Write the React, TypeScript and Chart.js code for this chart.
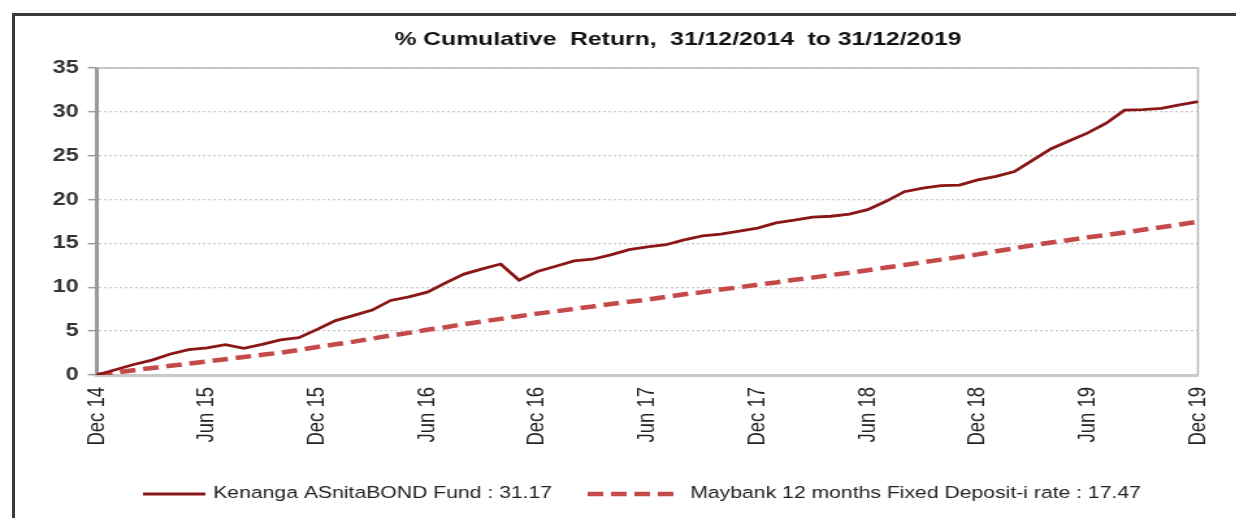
import React, { useEffect, useRef } from 'react';
import { Chart, registerables } from 'chart.js';

Chart.register(...registerables);

const TITLE = '% Cumulative  Return,  31/12/2014  to 31/12/2019';

const months = [
  'Dec 14',
  'Jan 15', 'Feb 15', 'Mar 15', 'Apr 15', 'May 15', 'Jun 15', 'Jul 15', 'Aug 15', 'Sep 15', 'Oct 15', 'Nov 15', 'Dec 15',
  'Jan 16', 'Feb 16', 'Mar 16', 'Apr 16', 'May 16', 'Jun 16', 'Jul 16', 'Aug 16', 'Sep 16', 'Oct 16', 'Nov 16', 'Dec 16',
  'Jan 17', 'Feb 17', 'Mar 17', 'Apr 17', 'May 17', 'Jun 17', 'Jul 17', 'Aug 17', 'Sep 17', 'Oct 17', 'Nov 17', 'Dec 17',
  'Jan 18', 'Feb 18', 'Mar 18', 'Apr 18', 'May 18', 'Jun 18', 'Jul 18', 'Aug 18', 'Sep 18', 'Oct 18', 'Nov 18', 'Dec 18',
  'Jan 19', 'Feb 19', 'Mar 19', 'Apr 19', 'May 19', 'Jun 19', 'Jul 19', 'Aug 19', 'Sep 19', 'Oct 19', 'Nov 19', 'Dec 19',
];

const kenanga = [
  0,
  0.6, 1.2, 1.7, 2.4, 2.9, 3.1, 3.45, 3.05, 3.5, 4.0, 4.25, 5.2,
  6.2, 6.8, 7.4, 8.5, 8.9, 9.45, 10.5, 11.5, 12.1, 12.65, 10.8, 11.8,
  12.4, 13.0, 13.2, 13.7, 14.3, 14.6, 14.85, 15.4, 15.85, 16.05, 16.4, 16.75,
  17.35, 17.65, 18.0, 18.1, 18.35, 18.85, 19.8, 20.9, 21.3, 21.6, 21.65, 22.25,
  22.65, 23.2, 24.5, 25.8, 26.7, 27.6, 28.7, 30.2, 30.25, 30.4, 30.8, 31.17,
];

const maybank = [
  0,
  0.27, 0.55, 0.8, 1.05, 1.3, 1.55, 1.8, 2.05, 2.3, 2.55, 2.85, 3.2,
  3.5, 3.8, 4.15, 4.5, 4.8, 5.15, 5.45, 5.8, 6.1, 6.4, 6.7, 7.0,
  7.25, 7.55, 7.8, 8.1, 8.35, 8.6, 8.9, 9.2, 9.45, 9.75, 10.0, 10.3,
  10.55, 10.85, 11.1, 11.4, 11.65, 11.95, 12.25, 12.55, 12.85, 13.15, 13.45, 13.75,
  14.1, 14.45, 14.8, 15.1, 15.4, 15.7, 15.95, 16.25, 16.55, 16.85, 17.15, 17.47,
];

const seriesNames = [
  'Kenanga ASnitaBOND Fund : 31.17',
  'Maybank 12 months Fixed Deposit-i rate : 17.47',
];

const FONT = 'Arial, "Liberation Sans", sans-serif';
const STRETCH = 1.3;
const CW = Math.round(1236 / STRETCH);
const CH = 518;

const titlePlugin = {
  id: 'customTitle',
  afterDraw(chart: any) {
    const ctx = chart.ctx;
    ctx.save();
    ctx.font = `bold 19px ${FONT}`;
    ctx.fillStyle = '#111';
    ctx.textAlign = 'center';
    ctx.textBaseline = 'middle';
    ctx.fillText(TITLE, 521.5, 40);
    ctx.restore();
  },
};

const framePlugin = {
  id: 'plotFrame',
  beforeDatasetsDraw(chart: any) {
    const { ctx, chartArea } = chart;
    ctx.save();
    ctx.strokeStyle = '#b8b8b8';
    ctx.lineWidth = 1.5;
    ctx.beginPath();
    ctx.moveTo(chartArea.left, chartArea.top);
    ctx.lineTo(chartArea.right, chartArea.top);
    ctx.lineTo(chartArea.right, chartArea.bottom);
    ctx.stroke();
    ctx.restore();
  },
};

const legendPlugin = {
  id: 'customLegend',
  afterDraw(chart: any) {
    const ctx = chart.ctx;
    const ds = chart.data.datasets;
    const y = 494;
    const items = [
      { x0: 110, x1: 158, tx: 164 },
      { x0: 452, x1: 523, tx: 531 },
    ];
    ctx.save();
    items.forEach((it, i) => {
      const d = ds[i];
      ctx.strokeStyle = d.borderColor;
      ctx.lineWidth = d.borderWidth;
      ctx.setLineDash(d.borderDash || []);
      ctx.beginPath();
      ctx.moveTo(it.x0, y);
      ctx.lineTo(it.x1, y);
      ctx.stroke();
      ctx.setLineDash([]);
      ctx.font = `16.3px ${FONT}`;
      ctx.fillStyle = '#222';
      ctx.textAlign = 'left';
      ctx.textBaseline = 'middle';
      ctx.fillText(d.label, it.tx, y);
    });
    ctx.restore();
  },
};

export default function App() {
  const ref = useRef<HTMLCanvasElement | null>(null);

  useEffect(() => {
    if (!ref.current) return;
    const chart = new Chart(ref.current, {
      type: 'line',
      data: {
        labels: months,
        datasets: [
          {
            label: seriesNames[0],
            data: kenanga,
            borderColor: '#8a1616',
            borderWidth: 2.8,
            pointRadius: 0,
            tension: 0,
            fill: false,
          },
          {
            label: seriesNames[1],
            data: maybank,
            borderColor: '#c44a4a',
            borderWidth: 4.5,
            borderDash: [12, 6],
            pointRadius: 0,
            tension: 0,
            fill: false,
          },
        ],
      },
      options: {
        responsive: false,
        animation: false,
        devicePixelRatio: 1,
        layout: { padding: { left: 0, right: 29.5, top: 68, bottom: 0 } },
        plugins: {
          legend: { display: false },
          title: { display: false },
          tooltip: { enabled: false },
        },
        scales: {
          x: {
            type: 'category',
            offset: false,
            grid: { display: true, drawOnChartArea: false, drawTicks: false },
            border: { display: true, color: '#c8c8c8', width: 3 },
            ticks: {
              autoSkip: false,
              minRotation: 90,
              maxRotation: 90,
              padding: 12,
              color: '#222',
              font: { family: FONT, size: 18.5 },
              callback: (_v: any, i: number) => (i % 6 === 0 ? months[i] : ''),
            },
            afterFit: (scale: any) => {
              scale.height = 143;
              scale.paddingLeft = 0;
              scale.paddingRight = 0;
            },
          },
          y: {
            min: 0,
            max: 35,
            ticks: {
              stepSize: 5,
              padding: 7,
              color: '#333',
              font: { family: FONT, size: 18, weight: 'bold' },
            },
            grid: {
              color: '#c8c8c8',
              lineWidth: 1.3,
              tickLength: 7,
              tickColor: '#9a9a9a',
              tickWidth: 1.5,
            },
            border: { display: true, color: '#9a9a9a', width: 3, dash: [2, 2] },
            afterFit: (scale: any) => {
              scale.width = 74.6;
            },
          },
        },
      },
      plugins: [framePlugin, titlePlugin, legendPlugin],
    });
    return () => chart.destroy();
  }, []);

  return (
    <div
      style={{
        position: 'fixed',
        left: 0,
        top: 0,
        width: 1236,
        height: 518,
        overflow: 'hidden',
        background: '#fff',
      }}
    >
      <div
        style={{
          position: 'absolute',
          left: 12,
          top: 13,
          width: 1400,
          height: 700,
          borderTop: '3px solid #3a3a3a',
          borderLeft: '3px solid #3a3a3a',
        }}
      />
      <canvas
        ref={ref}
        width={CW}
        height={CH}
        style={{
          position: 'absolute',
          left: 0,
          top: 0,
          width: CW,
          height: CH,
          transform: `scaleX(${STRETCH})`,
          transformOrigin: '0 0',
        }}
      />
    </div>
  );
}
